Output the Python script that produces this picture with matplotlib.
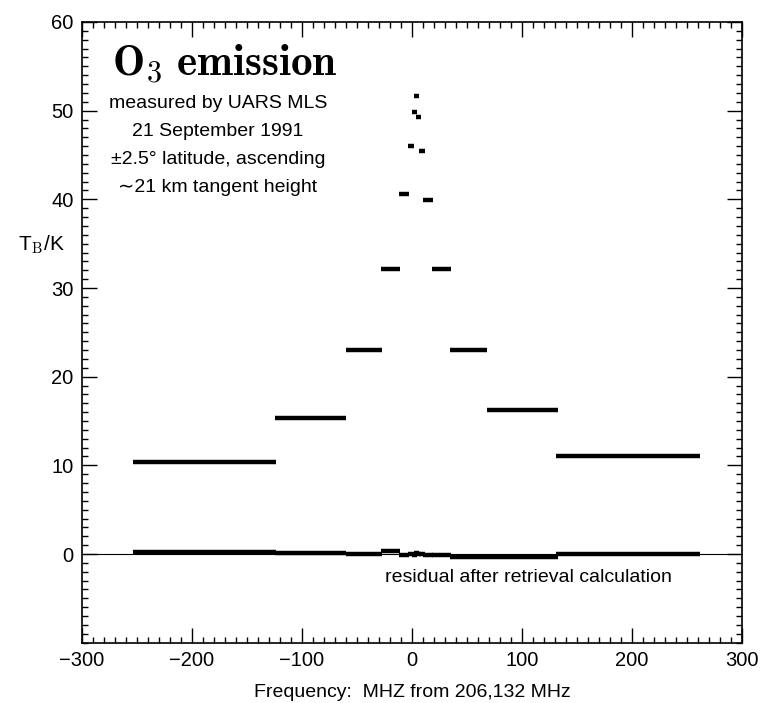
import matplotlib
matplotlib.use("Agg")
import matplotlib.pyplot as plt
from matplotlib.ticker import MultipleLocator

# Channel edges (MHz from 206,132 MHz), brightness temperature (K), residual (K)
ch_lo = [-254, -125, -60, -28, -11.8, -3.6, 0.0, 2.1, 4.0, 6.3, 10.0, 18.0, 34.5, 68, 131]
ch_hi = [-124, -60, -27, -11, -2.8, 1.8, 4.2, 6.1, 8.2, 11.9, 19.0, 35.5, 68.0, 133, 262]
tb    = [10.4, 15.3, 23.0, 32.2, 40.6, 46.0, 49.8, 51.7, 49.3, 45.5, 39.9, 32.1, 23.0, 16.2, 11.05]
resid = [0.22, 0.1, 0.0, 0.3, -0.1, 0.05, -0.1, 0.1, -0.05, 0.05, -0.1, -0.13, -0.37, -0.3, 0.02]

xticks = [-300, -200, -100, 0, 100, 200, 300]
yticks = [0, 10, 20, 30, 40, 50, 60]

plt.rcParams['font.family'] = ['Liberation Sans', 'DejaVu Sans']
plt.rcParams['mathtext.fontset'] = 'cm'

fig = plt.figure(figsize=(7.77, 7.03), dpi=100)
ax = fig.add_axes([82/777, 60.3/703, 660/777, (642.7-22)/703])

ax.hlines(tb, ch_lo, ch_hi, colors='black', lw=3.2, capstyle='butt')
ax.hlines(resid, ch_lo, ch_hi, colors='black', lw=3.2, capstyle='butt')
ax.axhline(0, color='black', lw=0.8)

ax.set_xlim(-300, 300)
ax.set_ylim(-10, 60)
ax.set_xticks(xticks)
ax.set_xticklabels(['\u2212300', '\u2212200', '\u2212100', '0', '100', '200', '300'])
ax.set_yticks(yticks)
ax.xaxis.set_minor_locator(MultipleLocator(10))
ax.yaxis.set_minor_locator(MultipleLocator(1))
ax.tick_params(which='both', direction='in', top=True, right=True, width=1.0)
ax.tick_params(which='major', length=11, labelsize=14.5, pad=6)
ax.tick_params(which='minor', length=4)
for s in ax.spines.values():
    s.set_linewidth(1.2)

ax.set_xlabel('Frequency:  MHZ from 206,132 MHz', fontsize=14, labelpad=10)
fig.text(41/777, 1 - 245/703, r'T$_\mathrm{B}$/K', fontsize=15, ha='center', va='center')

def px(x, y):
    return (x/777, 1 - y/703)

fig.text(*px(225, 64), r'$\mathbf{O}_3\ \mathbf{emission}$', fontsize=31, ha='center', va='center')
lines = ['measured by UARS MLS', '21 September 1991',
         '\u00b12.5\u00b0 latitude, ascending', '\u223c21 km tangent height']
ys = [103, 131, 160, 187]
for t, y in zip(lines, ys):
    fig.text(*px(218, y), t, fontsize=14, ha='center', va='center')

fig.text(*px(528, 577), 'residual after retrieval calculation', fontsize=14, ha='center', va='center')

fig.savefig('out.png', dpi=100)
